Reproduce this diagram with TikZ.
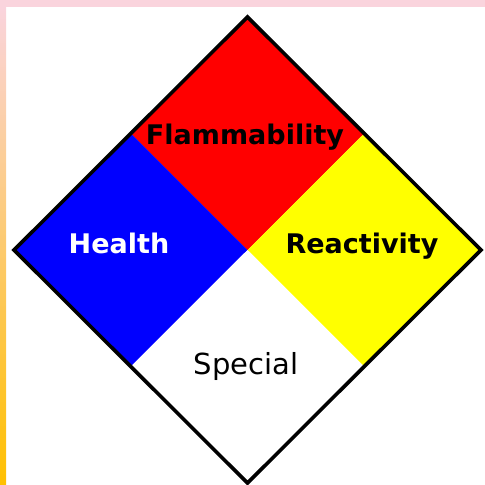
\documentclass[tikz,border=0pt]{standalone}
\usepackage{fontspec}
\setmainfont{DejaVu Sans}
\usetikzlibrary{calc}
\usetikzlibrary{positioning}
\definecolor{pinkband}{RGB}{250,212,221}
\definecolor{goldband}{RGB}{255,192,0}
\definecolor{hazyellow}{RGB}{255,255,0}
\tikzstyle{outline}=[draw=black,line width=3.6pt,line join=miter]
\tikzstyle{hazardtext}=[inner sep=0pt,anchor=base,font=\fontsize{27}{27}\selectfont\bfseries]
\tikzstyle{specialtext}=[inner sep=0pt,anchor=base,font=\fontsize{29}{29}\selectfont]

\begin{document}
\begin{tikzpicture}[x=1pt,y=-1pt]
    % page frame with the two coloured bands
    \useasboundingbox (0,0) rectangle (485,485);
    \fill[pinkband] (0,0) rectangle (485,7);
    \shade[top color=pinkband,bottom color=goldband] (0,7) rectangle (6,485);

    % corners of the diamond
    \coordinate (T) at (247.5,17);
    \coordinate (R) at (481,250);
    \coordinate (B) at (247.5,483);
    \coordinate (L) at (14,250);
    \coordinate (C) at (247.5,250);
    \coordinate (TR) at ($(T)!0.5!(R)$);
    \coordinate (BR) at ($(B)!0.5!(R)$);
    \coordinate (BL) at ($(B)!0.5!(L)$);
    \coordinate (TL) at ($(T)!0.5!(L)$);

    % the four small squares
    \foreach \a/\b/\d/\col in {T/TR/TL/red, L/TL/BL/blue, R/TR/BR/hazyellow, B/BL/BR/white}
        \fill[\col] (\a) -- (\b) -- (C) -- (\d) -- cycle;
    \draw[outline] (T) -- (R) -- (B) -- (L) -- cycle;

    \node[hazardtext] (flam) at (245,144) {Flammability};
    \node[hazardtext,white] (health) at (119,253) {Health};
    \node[hazardtext] (react) at (362,253) {Reactivity};
    \node[specialtext] (special) at (246,374) {Special};
\end{tikzpicture}
\end{document}
